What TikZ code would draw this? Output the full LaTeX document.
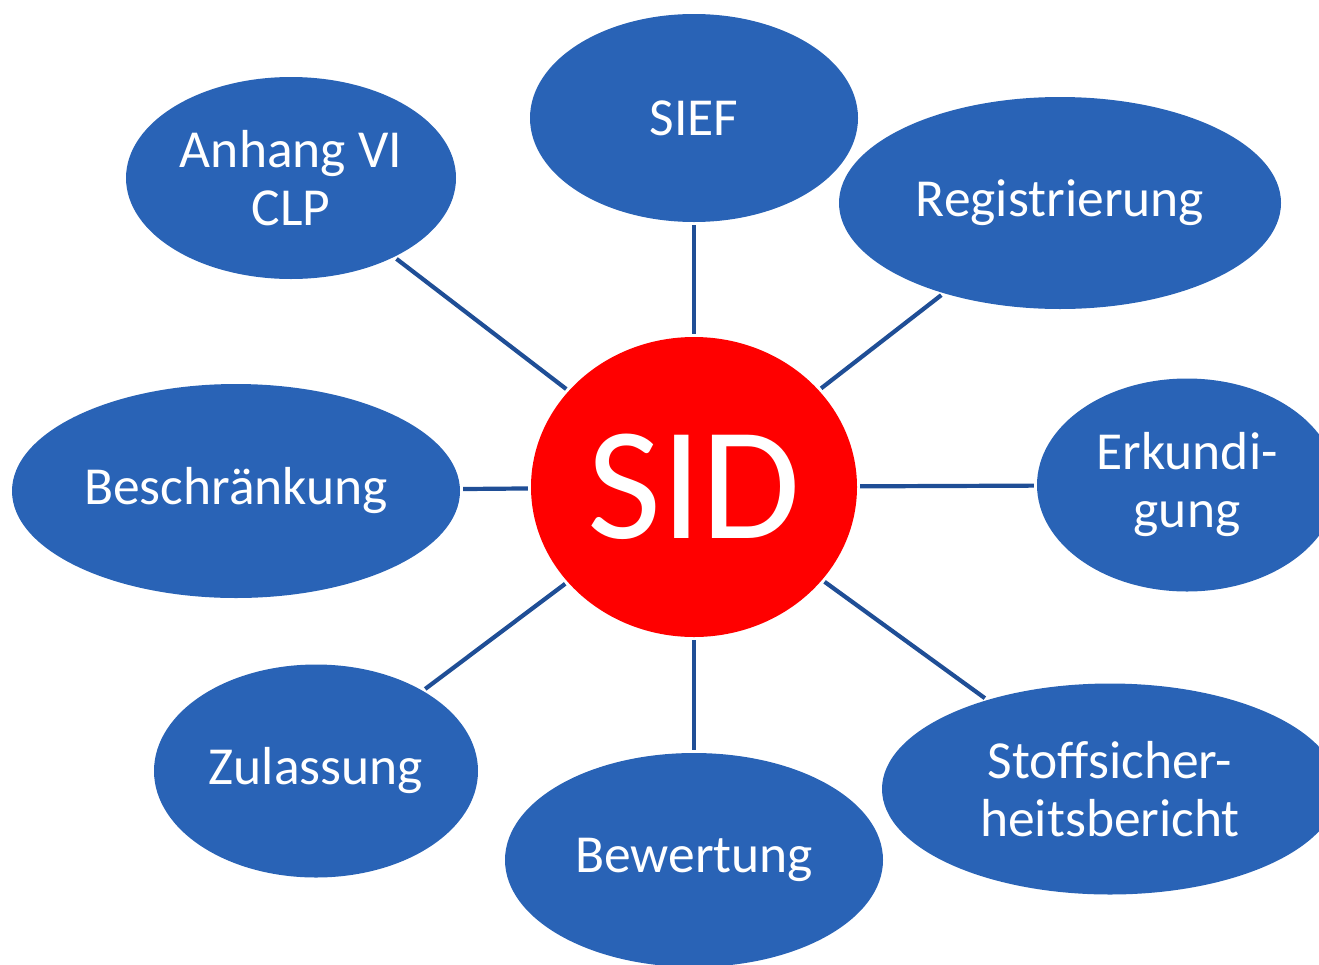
\documentclass[tikz,border=0pt]{standalone}
\usepackage{fontspec}
\setmainfont{Carlito}
\usetikzlibrary{shapes.geometric}
\definecolor{topicblue}{HTML}{2963B6}
\definecolor{linkblue}{HTML}{1F4E96}

\begin{document}
\begin{tikzpicture}[x = 1pt, y = -1pt,
    topic/.style = { shape = ellipse, fill = topicblue, text = white, align = center,
      inner sep = 0pt, font = \fontsize{53.5}{58}\selectfont },
    link/.style = { draw = linkblue, line width = 4.2pt, shorten < = 3pt, shorten > = 3pt }]
  \useasboundingbox (0,0) rectangle (1319,964);
  \clip (0,0) rectangle (1319,964);

  \node [shape = ellipse, fill = red, text = white, inner sep = 0pt,
    minimum width = 326pt, minimum height = 300pt,
    font = \fontsize{161}{166}\selectfont] (sid) at (694,487) {SID};

  \node [topic, minimum width = 330pt, minimum height = 202pt] (anhang) at (291,178) {Anhang VI\\CLP};
  \node [topic, minimum width = 328pt, minimum height = 208pt] (sief) at (694,118) {SIEF};
  \node [topic, minimum width = 442pt, minimum height = 212pt] (reg) at (1060,203) {Registrierung};
  \node [topic, minimum width = 300pt, minimum height = 213pt] (erk) at (1187,485) {Erkundi-\\gung};
  \node [topic, minimum width = 448pt, minimum height = 214pt] (besch) at (236,491) {Beschränkung};
  \node [topic, minimum width = 324pt, minimum height = 213pt] (zul) at (316,771) {Zulassung};
  \node [topic, minimum width = 378pt, minimum height = 214pt] (bew) at (694,860) {Bewertung};
  \node [topic, minimum width = 456pt, minimum height = 211pt] (stoff) at (1110,789) {Stoffsicher-\\heitsbericht};

  \foreach \n in {anhang, sief, reg, erk, besch, zul, bew, stoff}
    \draw [link] (sid) -- (\n);
\end{tikzpicture}
\end{document}
